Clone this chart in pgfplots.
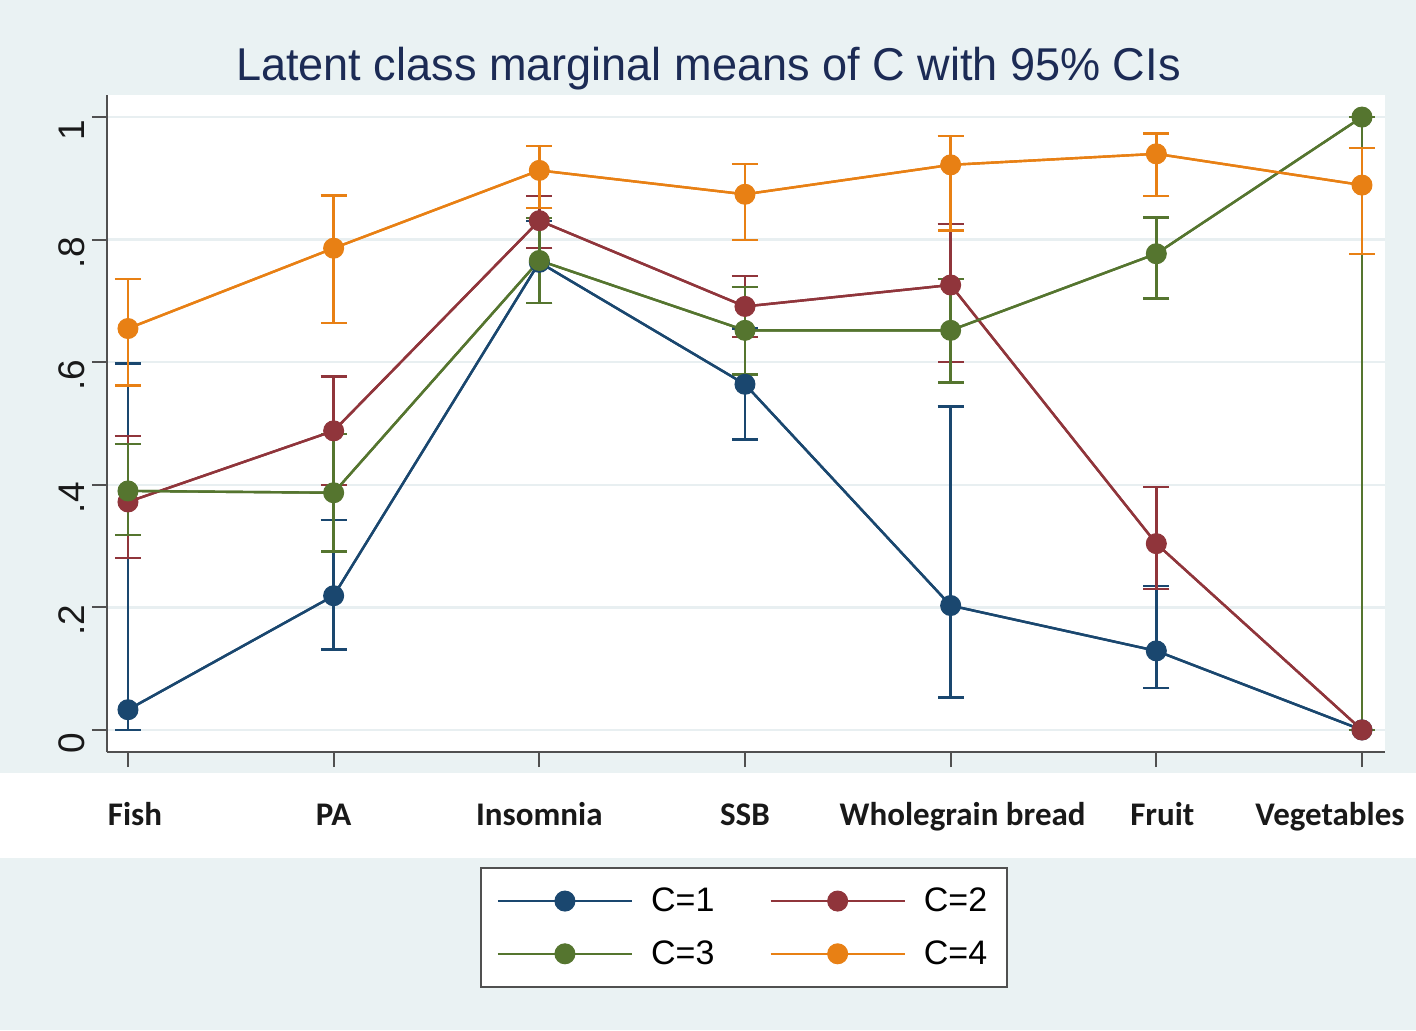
\documentclass[border=0pt]{standalone}
\usepackage{fontspec}
\usepackage{pgfplots}
\pgfplotsset{compat=1.18}
\usepackage{pgfplotstable}
\setmainfont{Liberation Sans}
\newfontfamily\xlab{Carlito}
\definecolor{bgc}{RGB}{234,242,243}
\definecolor{gridc}{RGB}{232,239,241}
\definecolor{axc}{RGB}{80,80,80}
\definecolor{titc}{RGB}{28,43,85}
\definecolor{cA}{RGB}{26,71,111}
\definecolor{cB}{RGB}{144,53,59}
\definecolor{cC}{RGB}{85,117,47}
\definecolor{cD}{RGB}{232,128,20}

\pgfplotstableread{
x y ep em
0 0.033 0.565 0.033
1 0.219 0.124 0.088
2 0.763 0.067 0.066
3 0.564 0.091 0.090
4 0.203 0.325 0.150
5 0.129 0.106 0.061
6 0.000 0.000 0.000
}\dataA
\pgfplotstableread{
x y ep em
0 0.372 0.108 0.091
1 0.488 0.089 0.088
2 0.831 0.040 0.045
3 0.691 0.050 0.050
4 0.726 0.100 0.126
5 0.304 0.092 0.074
6 0.000 0.000 0.000
}\dataB
\pgfplotstableread{
x y ep em
0 0.390 0.077 0.072
1 0.387 0.096 0.096
2 0.766 0.069 0.069
3 0.652 0.071 0.072
4 0.652 0.084 0.085
5 0.777 0.059 0.073
6 1.000 0.000 1.000
}\dataC
\pgfplotstableread{
x y ep em
0 0.655 0.081 0.093
1 0.786 0.086 0.122
2 0.913 0.040 0.061
3 0.874 0.049 0.075
4 0.922 0.047 0.107
5 0.940 0.033 0.069
6 0.889 0.061 0.112
}\dataD

\begin{document}
\begin{tikzpicture}
\fill[bgc] (0,0) rectangle (708pt,515pt);
\path[use as bounding box] (0,0) rectangle (708pt,515pt);
\fill[white] (0,86pt) rectangle (708pt,128.5pt);
\node[text=titc, font=\fontsize{23}{27}\selectfont] at (354.2pt,480.5pt) {\scalebox{0.98}[1]{Latent class marginal means of C with 95\% CIs}};
\begin{axis}[
  at={(53.5pt,139pt)}, anchor=south west,
  scale only axis, width=639pt, height=328.5pt,
  xmin=-0.102, xmax=6.112, ymin=-0.036, ymax=1.036,
  axis background/.style={fill=white},
  axis x line*=bottom, axis y line*=left,
  axis line style={-, draw=axc, line width=1pt},
  tick align=outside, major tick length=7.5pt,
  tick style={draw=axc, line width=0.9pt},
  xtick={0,1,2,3,4,5,6},
  xticklabels={\hspace*{7pt}Fish,PA,Insomnia,SSB,\hspace*{12pt}Wholegrain bread,\hspace*{6pt}Fruit,\hspace*{-32pt}Vegetables},
  xticklabel style={font=\xlab\bfseries\fontsize{16.5}{19}\selectfont, text=black!90, yshift=-13.5pt, text height=12pt, text depth=3.5pt},
  ytick={0,0.2,0.4,0.6,0.8,1},
  yticklabels={0,.2,.4,.6,.8,1},
  yticklabel style={rotate=90, anchor=south, font=\fontsize{18.5}{21}\selectfont, text=black!90, xshift=-6.5pt},
  ymajorgrids, grid style={draw=gridc, line width=1.2pt},
  clip=false,
  legend columns=2,
  legend cell align=left,
  legend style={at={(0.4984,-0.267)}, anchor=center, draw=axc, line width=1pt, fill=white,
    font=\fontsize{17}{20}\selectfont, inner xsep=8pt, inner ysep=8pt, row sep=9pt,
    /tikz/every even column/.append style={column sep=25.5pt}},
  legend image code/.code={\draw[mark repeat=2,mark phase=2,#1] plot coordinates {(0pt,0pt) (33.5pt,0pt) (67pt,0pt)};},
  error bars/y dir=both, error bars/y explicit,
  error bars/error mark options={mark size=6.5pt, line width=1.2pt, rotate=90},
]
% pass 1: lines with CIs
\addplot[cA, line width=1.2pt, mark=none, forget plot, error bars/error bar style={line width=1.2pt}] table[x=x,y=y,y error plus=ep,y error minus=em]{\dataA};
\addplot[cB, line width=1.2pt, mark=none, forget plot, error bars/error bar style={line width=1.2pt}] table[x=x,y=y,y error plus=ep,y error minus=em]{\dataB};
\addplot[cC, line width=1.2pt, mark=none, forget plot, error bars/error bar style={line width=1.2pt}] table[x=x,y=y,y error plus=ep,y error minus=em]{\dataC};
\addplot[cD, line width=1.2pt, mark=none, forget plot, error bars/error bar style={line width=1.2pt}] table[x=x,y=y,y error plus=ep,y error minus=em]{\dataD};
% pass 2: lines with markers
\addplot[cA, line width=1.2pt, mark=*, mark size=5pt, mark options={fill=cA, draw=cA, line width=0.5pt}, error bars/y dir=none] table[x=x,y=y]{\dataA};
\addlegendentry{\hspace*{7pt}C=1}
\addplot[cB, line width=1.2pt, mark=*, mark size=5pt, mark options={fill=cB, draw=cB, line width=0.5pt}, error bars/y dir=none] table[x=x,y=y]{\dataB};
\addlegendentry{\hspace*{7pt}C=2}
\addplot[cC, line width=1.2pt, mark=*, mark size=5pt, mark options={fill=cC, draw=cC, line width=0.5pt}, error bars/y dir=none] table[x=x,y=y]{\dataC};
\addlegendentry{\hspace*{7pt}C=3}
\addplot[cD, line width=1.2pt, mark=*, mark size=5pt, mark options={fill=cD, draw=cD, line width=0.5pt}, error bars/y dir=none] table[x=x,y=y]{\dataD};
\addlegendentry{\hspace*{7pt}C=4}
\end{axis}
\end{tikzpicture}
\end{document}
